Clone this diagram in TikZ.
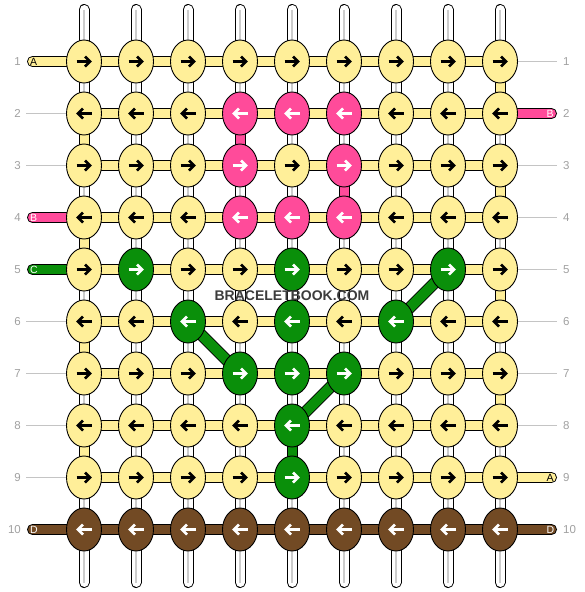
\documentclass[tikz,border=0pt]{standalone}
\usepackage{fontspec}
\setmainfont{Liberation Sans}
\usetikzlibrary{shapes.geometric}

\pgfdeclarelayer{background}
\pgfsetlayers{background,main}

% knot colours and the colour of the arrow on them
\definecolor{Y}{HTML}{FFEF99}
\definecolor{P}{HTML}{FF4B9A}
\definecolor{G}{HTML}{0A8F0A}
\definecolor{D}{HTML}{724A24}
\colorlet{YA}{black}
\colorlet{PA}{white}
\colorlet{GA}{white}
\colorlet{DA}{white}
\definecolor{numgray}{HTML}{A0A0A0}
\definecolor{guidegray}{HTML}{C4C4C4}
\definecolor{coregray}{HTML}{CCCCCC}
\definecolor{wmgray}{HTML}{3C3C3C}

\tikzset{
  knot/.style={ellipse, draw=black, line width=0.9pt, fill=#1,
    minimum width=35pt, minimum height=43pt, inner sep=0pt},
  strand/.style={draw=black, line width=1pt, double=#1, double distance=9pt},
  tube/.style={strand=white, line cap=round},
  tubecore/.style={coregray, line width=1.5pt},
  endbar/.style={strand=#1, line cap=round},
  diag/.style={strand=G, double distance=10pt},
  guide/.style={guidegray, line width=0.8pt},
  rownum/.style={text=numgray, inner sep=0pt, font=\fontsize{11.5}{12}\selectfont},
  endlabel/.style={inner sep=0pt, font=\fontsize{10.5}{11}\selectfont},
  pics/knotarrow/.style={code={
    \draw[#1, line width=2.6pt] (-7.5,0) -- (5.5,0);
    \draw[#1, line width=2.6pt, line join=miter] (1,-5) -- (6,0) -- (1,5);
  }}
}

\begin{document}
\begin{tikzpicture}[x=1pt, y=-1pt]
\useasboundingbox (0,0) rectangle (584,592);

% knots, row by row (1 = forward knot, -1 = backward knot)
\foreach \r/\dir/\row in {
  1/1/{Y,Y,Y,Y,Y,Y,Y,Y,Y},
  2/-1/{Y,Y,Y,P,P,P,Y,Y,Y},
  3/1/{Y,Y,Y,P,Y,P,Y,Y,Y},
  4/-1/{Y,Y,Y,P,P,P,Y,Y,Y},
  5/1/{Y,G,Y,Y,G,Y,Y,G,Y},
  6/-1/{Y,Y,G,Y,G,Y,G,Y,Y},
  7/1/{Y,Y,Y,G,G,G,Y,Y,Y},
  8/-1/{Y,Y,Y,Y,G,Y,Y,Y,Y},
  9/1/{Y,Y,Y,Y,G,Y,Y,Y,Y},
  10/-1/{D,D,D,D,D,D,D,D,D}}
  \foreach \k [count=\c] in \row {
    \node[knot=\k] (k-\r-\c) at ({84+52*(\c-1)}, {61.5+52*(\r-1)}) {};
    \pic[xscale=\dir] at (k-\r-\c) {knotarrow=\k A};
  }

\begin{pgfonlayer}{background}
  % base strings
  \foreach \c [evaluate=\c as \x using {84+52*(\c-1)}] in {1,...,9} {
    \coordinate (top-\c) at (\x, 9.5);
    \coordinate (bot-\c) at (\x, 582.5);
    \draw[tube] (top-\c) -- (bot-\c);
    \draw[tubecore] (top-\c) -- (bot-\c);
  }
  % coloured pieces between rows
  \foreach \r/\c/\col in {1/9/Y, 2/1/Y, 2/4/P, 3/6/P, 3/9/Y, 4/1/Y,
                          5/9/Y, 6/1/Y, 7/9/Y, 8/1/Y, 8/5/G} {
    \pgfmathtruncatemacro\n{\r+1}
    \draw[strand=\col] (k-\r-\c.center) -- (k-\n-\c.center);
  }
  % working strings along the rows
  \foreach \r/\col in {1/Y, 2/Y, 3/Y, 4/Y, 5/Y, 6/Y, 7/Y, 8/Y, 9/Y, 10/D}
    \foreach \c [count=\n from 2] in {1,...,8}
      \draw[strand=\col] (k-\r-\c.center) -- (k-\r-\n.center);
  % diagonals
  \draw[diag] (k-5-8.center) -- (k-6-7.center);
  \draw[diag] (k-6-3.center) -- (k-7-4.center);
  \draw[diag] (k-7-6.center) -- (k-8-5.center);
  % loose ends
  \foreach \r/\col in {1/Y, 4/P, 5/G, 10/D} {
    \coordinate (end-l-\r) at (32.5, {61.5+52*(\r-1)});
    \draw[endbar=\col] (end-l-\r) -- (k-\r-1.center);
  }
  \foreach \r/\col in {2/P, 9/Y, 10/D} {
    \coordinate (end-r-\r) at (551.5, {61.5+52*(\r-1)});
    \draw[endbar=\col] (k-\r-9.center) -- (end-r-\r);
  }
\end{pgfonlayer}

% string names
\foreach \r/\col/\lab in {1/Y/A, 4/P/B, 5/G/C, 10/D/D}
  \node[endlabel, text=\col A, anchor=west] (lab-l-\r) at (30, {61.5+52*(\r-1)}) {\lab};
\foreach \r/\col/\lab in {2/P/B, 9/Y/A, 10/D/D}
  \node[endlabel, text=\col A, anchor=west] (lab-r-\r) at (546.5, {61.5+52*(\r-1)}) {\lab};

% row numbers
\foreach \r in {1,...,10} {
  \node[rownum, anchor=east] (num-l-\r) at (21, {61.5+52*(\r-1)}) {\r};
  \node[rownum, anchor=west] (num-r-\r) at (563, {61.5+52*(\r-1)}) {\r};
}
\foreach \r in {2,3,6,7,8,9} {
  \coordinate (g-l-\r) at (26, {61.5+52*(\r-1)});
  \draw[guide] (g-l-\r) -- (k-\r-1);
}
\foreach \r in {1,3,4,5,6,7,8} {
  \coordinate (g-r-\r) at (557, {61.5+52*(\r-1)});
  \draw[guide] (k-\r-9) -- (g-r-\r);
}

\node[text=wmgray, font=\bfseries\fontsize{14}{14}\selectfont] (watermark) at (292,296) {BRACELETBOOK.COM};

\end{tikzpicture}
\end{document}
